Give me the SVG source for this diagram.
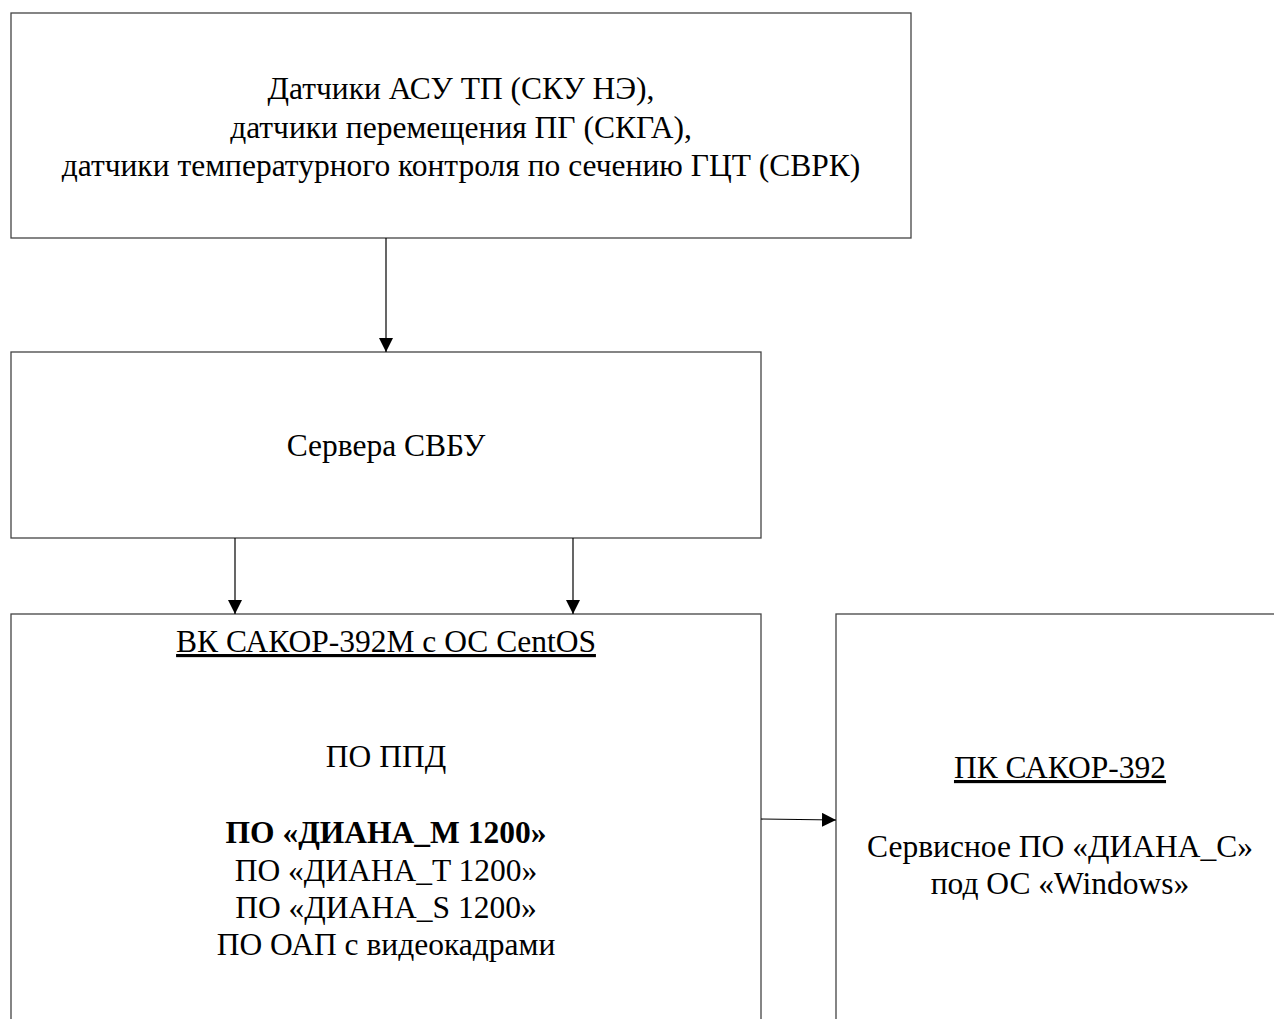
<svg xmlns="http://www.w3.org/2000/svg" width="1274" height="1019" viewBox="0 0 1274 1019">
<style>
.box{fill:#fff;stroke:#444;stroke-width:1.3}
.t{font-family:"Liberation Serif","Times New Roman",serif;font-size:31.5px;fill:#000;text-anchor:middle}
.b{font-weight:bold}
.u{text-decoration:underline}
.c{stroke:#000;stroke-width:1.2;fill:none;marker-end:url(#ah)}
</style>
<defs>
<marker id="ah" markerWidth="14" markerHeight="14" refX="14" refY="7" orient="auto" markerUnits="userSpaceOnUse">
<path d="M0,0 L14,7 L0,14 Z" fill="#000"/>
</marker>
</defs>
<rect width="1274" height="1019" fill="#fff"/>
<g id="n1">
<rect class="box" x="11" y="13" width="900" height="225"/>
<text class="t" x="461" y="99">Датчики АСУ ТП (СКУ НЭ),</text>
<text class="t" x="461" y="138">датчики перемещения ПГ (СКГА),</text>
<text class="t" x="461" y="176">датчики температурного контроля по сечению ГЦТ (СВРК)</text>
</g>
<g id="n2">
<rect class="box" x="11" y="352" width="750" height="186"/>
<text class="t" x="386" y="456">Сервера СВБУ</text>
</g>
<g id="n3">
<rect class="box" x="11" y="614" width="750" height="430"/>
<text class="t u" x="386" y="652">ВК САКОР-392М с ОС CentOS</text>
<text class="t" x="386" y="767">ПО ППД</text>
<text class="t b" x="386" y="843">ПО «ДИАНА_М 1200»</text>
<text class="t" x="386" y="881">ПО «ДИАНА_T 1200»</text>
<text class="t" x="386" y="918">ПО «ДИАНА_S 1200»</text>
<text class="t" x="386" y="955">ПО ОАП с видеокадрами</text>
</g>
<g id="n4">
<rect class="box" x="836" y="614" width="460" height="430"/>
<text class="t u" x="1060" y="778">ПК САКОР-392</text>
<text class="t" x="1060" y="857">Сервисное ПО «ДИАНА_С»</text>
<text class="t" x="1060" y="894">под ОС «Windows»</text>
</g>
<g id="connectors">
<line class="c" x1="386" y1="238" x2="386" y2="352"/>
<line class="c" x1="235" y1="538" x2="235" y2="614"/>
<line class="c" x1="573" y1="538" x2="573" y2="614"/>
<line class="c" x1="761" y1="819" x2="836" y2="820"/>
</g>
</svg>
